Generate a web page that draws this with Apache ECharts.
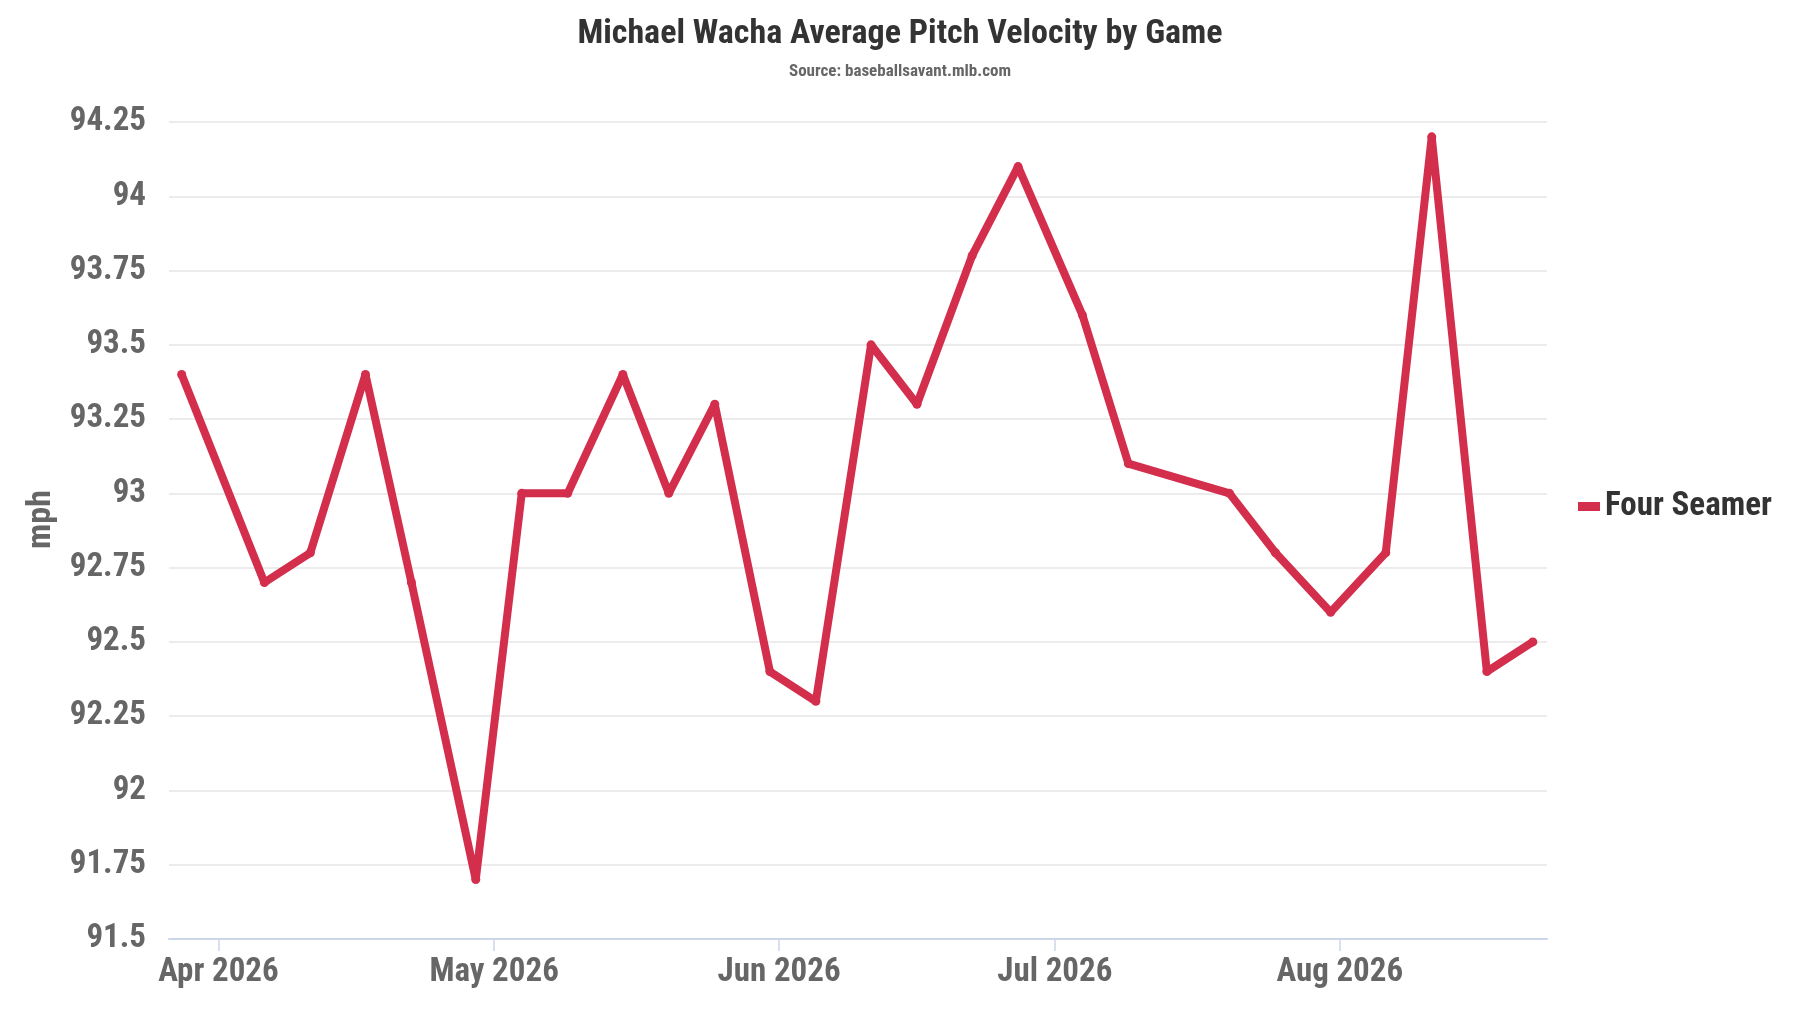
<!DOCTYPE html>
<html>
<head>
<meta charset="utf-8">
<title>Michael Wacha Average Pitch Velocity by Game</title>
<script src="https://cdn.jsdelivr.net/npm/echarts@6.0.0/dist/echarts.min.js"></script>
<style>
  html, body { margin: 0; padding: 0; background: #fff; }
  #chart { width: 1800px; height: 1013px; }
</style>
</head>
<body>
<div id="chart"></div>
<script>
// game dates and average four seamer velocity (mph)
var gameDates = [
  "2026-03-28", "2026-04-06", "2026-04-11", "2026-04-17", "2026-04-22",
  "2026-04-29", "2026-05-04", "2026-05-09", "2026-05-15", "2026-05-20",
  "2026-05-25", "2026-05-31", "2026-06-05", "2026-06-11", "2026-06-16",
  "2026-06-22", "2026-06-27", "2026-07-04", "2026-07-09", "2026-07-20",
  "2026-07-25", "2026-07-31", "2026-08-06", "2026-08-11", "2026-08-17",
  "2026-08-22"
];
var fourSeamer = [
  93.4, 92.7, 92.8, 93.4, 92.7,
  91.7, 93.0, 93.0, 93.4, 93.0,
  93.3, 92.4, 92.3, 93.5, 93.3,
  93.8, 94.1, 93.6, 93.1, 93.0,
  92.8, 92.6, 92.8, 94.2, 92.4,
  92.5
];
var monthTicks = ["2026-04-01", "2026-05-01", "2026-06-01", "2026-07-01", "2026-08-01"];
var monthNames = ["Jan", "Feb", "Mar", "Apr", "May", "Jun", "Jul", "Aug", "Sep", "Oct", "Nov", "Dec"];

var font = "'Roboto Condensed', 'Liberation Sans Narrow', 'DejaVu Sans Condensed', Roboto, sans-serif";
var lineColor = "#d32e4c";

function toTime(s) {
  var p = s.split("-");
  return Date.UTC(+p[0], +p[1] - 1, +p[2]);
}

var seriesData = gameDates.map(function (d, i) {
  return [toTime(d), fourSeamer[i]];
});
var tickValues = monthTicks.map(toTime);

var myChart = echarts.init(document.getElementById("chart"));
myChart.setOption({
  animation: false,
  backgroundColor: "#ffffff",
  textStyle: { fontFamily: font },
  title: [
    {
      text: "Michael Wacha Average Pitch Velocity by Game",
      left: "center",
      top: 17,
      padding: 0,
      textStyle: { fontFamily: font, fontSize: 34, fontWeight: "bold", color: "#333333" }
    },
    {
      text: "Source: baseballsavant.mlb.com",
      left: "center",
      top: 63,
      padding: 0,
      textStyle: { fontFamily: font, fontSize: 17, fontWeight: "bold", color: "#666666" }
    }
  ],
  legend: {
    orient: "vertical",
    left: 1573,
    top: "middle",
    icon: "rect",
    itemWidth: 22,
    itemHeight: 9,
    itemGap: 8,
    textStyle: { fontFamily: font, fontSize: 33, fontWeight: "bold", color: "#333333" },
    data: ["Four Seamer"]
  },
  grid: {
    left: 169,
    right: 253,
    top: 122,
    bottom: 74,
    containLabel: false,
    outerBoundsMode: "none"
  },
  xAxis: {
    type: "value",
    min: toTime("2026-03-26") + 15 * 3600000,
    max: toTime("2026-08-23") + 13 * 3600000,
    splitLine: { show: false },
    axisLine: { show: true, lineStyle: { color: "#ccd6eb", width: 2 } },
    axisTick: {
      show: true,
      length: 12,
      customValues: tickValues,
      lineStyle: { color: "#ccd6eb", width: 1.5 }
    },
    axisLabel: {
      customValues: tickValues,
      margin: 17,
      fontFamily: font,
      fontSize: 33,
      fontWeight: "bold",
      color: "#666666",
      formatter: function (v) {
        var d = new Date(v);
        return monthNames[d.getUTCMonth()] + " " + d.getUTCFullYear();
      }
    }
  },
  yAxis: {
    type: "value",
    min: 91.5,
    max: 94.25,
    interval: 0.25,
    name: "mph",
    nameLocation: "middle",
    nameRotate: 90,
    nameGap: 106,
    nameTextStyle: {
      fontFamily: font,
      fontSize: 34,
      fontWeight: "bold",
      color: "#666666",
      padding: [0, 0, 0, 22]
    },
    axisLine: { show: false },
    axisTick: { show: false },
    splitLine: { lineStyle: { color: "#e6e6e6", width: 1.5 } },
    axisLabel: {
      margin: 23,
      fontFamily: font,
      fontSize: 33,
      fontWeight: "bold",
      color: "#666666"
    }
  },
  series: [
    {
      name: "Four Seamer",
      type: "line",
      data: seriesData,
      showSymbol: true,
      symbol: "circle",
      symbolSize: 9,
      itemStyle: { color: lineColor },
      lineStyle: { color: lineColor, width: 8 },
      emphasis: { disabled: true }
    }
  ]
});
</script>
</body>
</html>
